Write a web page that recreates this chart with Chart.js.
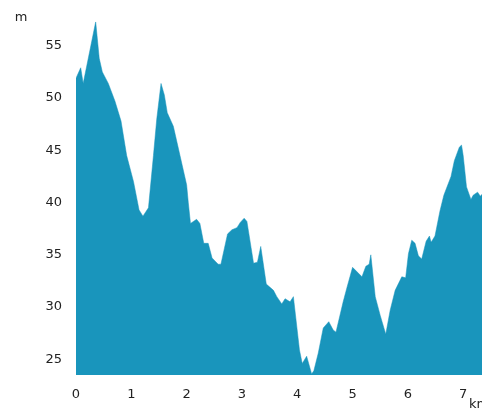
<!DOCTYPE html>
<html>
<head>
<meta charset="utf-8">
<script src="https://cdn.jsdelivr.net/npm/chart.js@4"></script>
<style>
  html, body { margin: 0; padding: 0; background: #fff; }
  #wrap { width: 482px; height: 411px; }
</style>
</head>
<body>
<div id="wrap"><canvas id="c"></canvas></div>
<script>
// distance along the track (km) and elevation (m)
const distKm = [0, 0.085, 0.13, 0.356, 0.42, 0.476, 0.584, 0.705, 0.814, 0.916, 1.04, 1.14, 1.21, 1.31, 1.40, 1.46, 1.537, 1.597, 1.65, 1.76, 1.88, 2.0, 2.03, 2.07, 2.18, 2.24, 2.31, 2.39, 2.46, 2.57, 2.62, 2.74, 2.82, 2.91, 2.97, 3.04, 3.09, 3.21, 3.28, 3.34, 3.44, 3.57, 3.63, 3.72, 3.78, 3.87, 3.93, 4.04, 4.09, 4.17, 4.26, 4.30, 4.38, 4.47, 4.57, 4.65, 4.70, 4.83, 4.90, 5.0, 5.17, 5.24, 5.30, 5.33, 5.41, 5.50, 5.60, 5.68, 5.77, 5.89, 5.96, 6.01, 6.07, 6.13, 6.19, 6.25, 6.33, 6.39, 6.42, 6.49, 6.58, 6.65, 6.78, 6.84, 6.93, 6.97, 7.0, 7.06, 7.14, 7.18, 7.26, 7.31, 7.34];
const elevM = [51.9, 52.9, 51.4, 57.3, 53.8, 52.5, 51.4, 49.7, 47.8, 44.5, 42.0, 39.3, 38.7, 39.5, 44.5, 48.0, 51.4, 50.3, 48.6, 47.3, 44.5, 41.7, 40.0, 38.0, 38.4, 38.0, 36.1, 36.1, 34.7, 34.1, 34.1, 37.0, 37.4, 37.6, 38.1, 38.5, 38.2, 34.2, 34.3, 35.8, 32.2, 31.6, 31.0, 30.3, 30.8, 30.5, 31.0, 25.9, 24.6, 25.3, 23.6, 23.9, 25.6, 28.0, 28.6, 27.8, 27.6, 30.5, 31.9, 33.8, 32.9, 33.9, 34.1, 35.0, 31.0, 29.2, 27.4, 29.7, 31.6, 32.9, 32.8, 35.1, 36.4, 36.1, 34.9, 34.6, 36.3, 36.8, 36.2, 36.8, 39.2, 40.7, 42.5, 44.0, 45.3, 45.5, 44.5, 41.5, 40.3, 40.7, 41.0, 40.6, 40.8];

const xTicks = [0, 1, 2, 3, 4, 5, 6, 7];
const yTicks = [25, 30, 35, 40, 45, 50, 55];
const yUnit = 'm';
const xUnit = 'km';

const fillColor = '#1995bc';
const textColor = '#222';
const font = { family: 'DejaVu Sans', size: 13 };

// unit labels: "m" above the y ticks, "km" below the x ticks (runs off the edge)
const unitLabels = {
  id: 'unitLabels',
  afterDraw(chart) {
    const ctx = chart.ctx;
    const area = chart.chartArea;
    ctx.save();
    ctx.font = `${font.size}px ${font.family}`;
    ctx.fillStyle = textColor;
    ctx.textBaseline = 'middle';
    ctx.textAlign = 'center';
    ctx.fillText(yUnit, 21, area.top - 4);
    ctx.textAlign = 'left';
    ctx.fillText(xUnit, area.right - 13, chart.height - 6);
    ctx.restore();
  }
};

new Chart(document.getElementById('c'), {
  type: 'line',
  data: {
    datasets: [{
      data: distKm.map((d, i) => ({ x: d, y: elevM[i] })),
      fill: 'start',
      backgroundColor: fillColor,
      borderColor: fillColor,
      borderWidth: 0.5,
      pointRadius: 0,
      tension: 0
    }]
  },
  options: {
    responsive: true,
    maintainAspectRatio: false,
    animation: false,
    layout: { padding: { top: 18, right: 0, left: 0, bottom: 0 } },
    plugins: { legend: { display: false }, tooltip: { enabled: false } },
    scales: {
      x: {
        type: 'linear',
        min: 0,
        max: distKm[distKm.length - 1],
        grid: { display: false, drawTicks: false },
        border: { display: false },
        afterFit: s => { s.height = 36; },
        afterBuildTicks: s => { s.ticks = xTicks.map(v => ({ value: v })); },
        ticks: { color: textColor, font, padding: 12, includeBounds: false, maxRotation: 0 }
      },
      y: {
        min: 23.5,
        max: 57.3,
        grid: { display: false, drawTicks: false },
        border: { display: false },
        afterFit: s => { s.width = 76; },
        afterBuildTicks: s => { s.ticks = yTicks.map(v => ({ value: v })); },
        ticks: { color: textColor, font, padding: 14, includeBounds: false }
      }
    }
  },
  plugins: [unitLabels]
});
</script>
</body>
</html>
